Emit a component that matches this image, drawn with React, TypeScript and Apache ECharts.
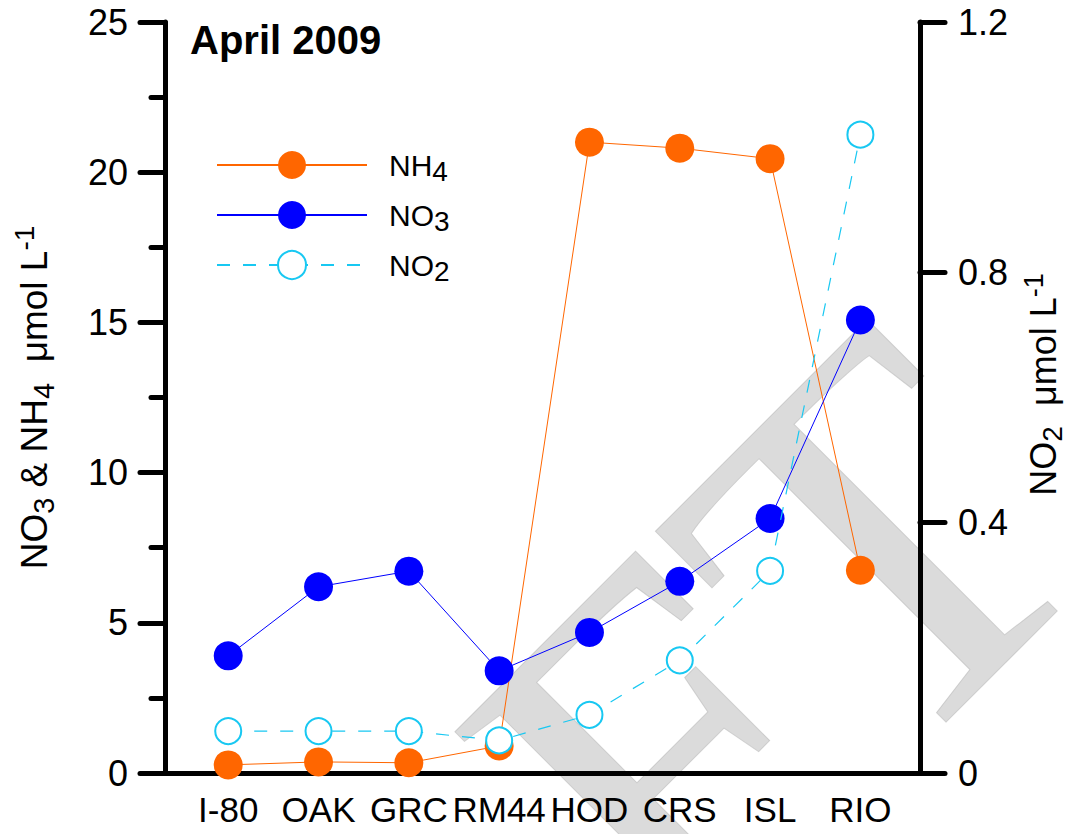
import React, { useEffect, useRef } from "react";
import * as echarts from "echarts";

const categories = ["I-80", "OAK", "GRC", "RM44", "HOD", "CRS", "ISL", "RIO"];
const nh4 = [0.27, 0.37, 0.34, 0.9, 21.0, 20.8, 20.45, 6.75];
const no3 = [3.9, 6.2, 6.72, 3.4, 4.68, 6.38, 8.47, 15.08];
const no2 = [0.067, 0.067, 0.067, 0.052, 0.093, 0.18, 0.323, 1.02];
const leftTicks = { min: 0, max: 25, interval: 5 };
const rightTicks = { min: 0, max: 1.2, interval: 0.4 };

const FONT = "'Liberation Sans', Arial, sans-serif";
const ORANGE = "#ff6600";
const BLUE = "#0000ff";
const CYAN = "#18c8f2";

const toPairs = (vals: number[]) => vals.map((v, i) => [i, v]);

export default function App() {
  const ref = useRef<HTMLDivElement>(null);
  useEffect(() => {
    document.body.style.margin = "0";
    const chart = echarts.init(ref.current!, null, { renderer: "svg" });
    const axisLineStyle = { color: "#000", width: 5 };
    const subNames: Record<string, string> = {
      NH4: "NH{s|4}",
      NO3: "NO{s|3}",
      NO2: "NO{s|2}",
    };
    chart.setOption({
      animation: false,
      backgroundColor: "#fff",
      textStyle: { fontFamily: FONT },
      title: {
        text: "April 2009",
        left: 185,
        top: 15,
        textStyle: { fontSize: 40, fontWeight: "bold", color: "#000", fontFamily: FONT },
      },
      graphic: [
        {
          type: "text",
          x: 990,
          y: 430,
          rotation: Math.PI / 4,
          z: -10,
          silent: true,
          style: {
            text: "DRAFT",
            font: "520px 'Liberation Serif', 'Times New Roman', serif",
            fill: "rgba(190,190,190,0.55)",
            stroke: "rgba(170,170,170,0.5)",
            lineWidth: 1,
            align: "right",
            verticalAlign: "middle",
          },
        },
      ],
      legend: {
        orient: "vertical",
        left: 211,
        top: 140,
        itemWidth: 150,
        itemHeight: 35,
        itemGap: 10,
        data: ["NH4", "NO3", "NO2"],
        formatter: (name: string) => "{w|}" + subNames[name],
        textStyle: {
          fontSize: 30,
          lineHeight: 40,
          color: "#000",
          fontFamily: FONT,
          rich: {
            w: { width: 17 },
            s: { fontSize: 28, lineHeight: 27, verticalAlign: "bottom", fontFamily: FONT },
          },
        },
      },
      grid: { left: 165, right: 155, top: 22, bottom: 61 },
      xAxis: {
        type: "value",
        min: -0.7,
        max: 7.66,
        axisLine: { show: true, onZero: false, lineStyle: axisLineStyle },
        axisTick: { show: false },
        splitLine: { show: false },
        axisLabel: {
          customValues: categories.map((_, i) => i),
          formatter: (v: number) => categories[Math.round(v)] ?? "",
          fontSize: 35,
          color: "#000",
          margin: 19,
          fontFamily: FONT,
        },
      },
      yAxis: [
        {
          type: "value",
          position: "left",
          ...leftTicks,
          name: "NO{s|3} & NH{s|4}  μmol L{p|-1}",
          nameLocation: "middle",
          nameRotate: 90,
          nameGap: 107,
          nameTextStyle: {
            fontSize: 37,
            lineHeight: 48,
            color: "#000",
            fontFamily: FONT,
            rich: {
              s: { fontSize: 29, lineHeight: 24, verticalAlign: "bottom", fontFamily: FONT },
              p: { fontSize: 28, lineHeight: 28, verticalAlign: "top", fontFamily: FONT },
            },
          },
          axisLine: { show: true, onZero: false, lineStyle: axisLineStyle },
          axisTick: { show: true, length: 25, lineStyle: { color: "#000", width: 5, cap: "round" } },
          minorTick: { show: true, splitNumber: 2, length: 14, lineStyle: { color: "#000", width: 5, cap: "round" } },
          splitLine: { show: false },
          minorSplitLine: { show: false },
          axisLabel: { fontSize: 36, color: "#000", margin: 37, fontFamily: FONT },
        },
        {
          type: "value",
          position: "right",
          ...rightTicks,
          name: "NO{s|2}  μmol L{p|-1}",
          nameLocation: "middle",
          nameRotate: 90,
          nameGap: 100,
          nameTextStyle: {
            fontSize: 36,
            lineHeight: 46,
            color: "#000",
            fontFamily: FONT,
            padding: [0, 0, 0, 26],
            rich: {
              s: { fontSize: 28, lineHeight: 22, verticalAlign: "bottom", fontFamily: FONT },
              p: { fontSize: 27, lineHeight: 26, verticalAlign: "top", fontFamily: FONT },
            },
          },
          axisLine: { show: true, onZero: false, lineStyle: axisLineStyle },
          axisTick: { show: true, length: 25, lineStyle: { color: "#000", width: 5, cap: "round" } },
          splitLine: { show: false },
          axisLabel: { fontSize: 36, color: "#000", margin: 38, fontFamily: FONT },
        },
      ],
      series: [
        {
          name: "NH4",
          type: "line",
          yAxisIndex: 0,
          data: toPairs(nh4),
          symbol: "circle",
          symbolSize: 29,
          itemStyle: { color: ORANGE },
          lineStyle: { color: ORANGE, width: 1 },
          z: 3,
        },
        {
          name: "NO3",
          type: "line",
          yAxisIndex: 0,
          data: toPairs(no3),
          symbol: "circle",
          symbolSize: 29,
          itemStyle: { color: BLUE },
          lineStyle: { color: BLUE, width: 1 },
          z: 4,
        },
        {
          name: "NO2",
          type: "line",
          yAxisIndex: 1,
          data: toPairs(no2),
          symbol: "emptyCircle",
          symbolSize: 26,
          itemStyle: { color: CYAN, borderWidth: 2.5 },
          lineStyle: { color: CYAN, width: 1.2, type: [13, 13] },
          z: 5,
        },
      ],
    });
    return () => chart.dispose();
  }, []);
  return <div ref={ref} style={{ width: 1075, height: 834 }} />;
}
